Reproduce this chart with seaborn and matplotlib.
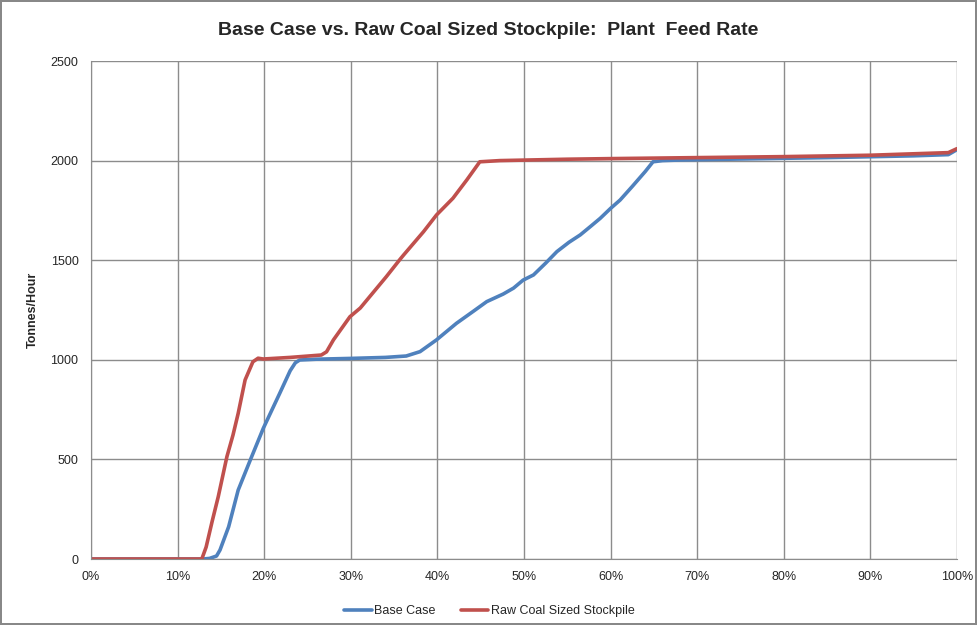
import numpy as np
import pandas as pd
import matplotlib.pyplot as plt
import matplotlib.ticker as mticker
import seaborn as sns

# data (x = fraction of time, y = tonnes/hour)
base_x = [0.00, 0.05, 0.10, 0.130, 0.137, 0.145, 0.149, 0.159, 0.170, 0.184, 0.199,
          0.218, 0.230, 0.236, 0.241, 0.26, 0.30, 0.34, 0.364, 0.380, 0.399, 0.422,
          0.442, 0.457, 0.476, 0.488, 0.499, 0.511, 0.525, 0.538, 0.552, 0.565,
          0.577, 0.588, 0.600, 0.611, 0.625, 0.640, 0.649, 0.66, 0.680,
          0.75, 0.85, 0.95, 0.99, 1.00]
base_y = [0, 0, 0, 0, 3, 15, 45, 162, 346, 497, 656,
          832, 945, 985, 999, 1003, 1007, 1012, 1019, 1041, 1100, 1183,
          1245, 1292, 1330, 1360, 1400, 1426, 1485, 1543, 1590, 1627,
          1670, 1710, 1760, 1802, 1870, 1945, 1994, 2000, 2003,
          2008, 2015, 2024, 2030, 2055]

stock_x = [0.00, 0.05, 0.10, 0.128, 0.133, 0.140, 0.147, 0.157, 0.164, 0.170,
           0.178, 0.187, 0.193, 0.199, 0.23, 0.266, 0.272, 0.280, 0.299, 0.311,
           0.341, 0.357, 0.361, 0.384, 0.399, 0.418, 0.434, 0.449, 0.472,
           0.55, 0.60, 0.70, 0.80, 0.90, 0.99, 1.00]
stock_y = [0, 0, 0, 0, 60, 190, 313, 514, 622, 731,
           899, 990, 1008, 1004, 1012, 1024, 1040, 1100, 1216, 1260,
           1417, 1505, 1526, 1643, 1727, 1811, 1903, 1994, 2000,
           2007, 2010, 2015, 2020, 2027, 2040, 2060]

series_names = ["Base Case", "Raw Coal Sized Stockpile"]
series_colors = ["#4F81BD", "#C0504D"]

df = pd.concat([
    pd.DataFrame({"t": base_x, "rate": base_y, "series": series_names[0]}),
    pd.DataFrame({"t": stock_x, "rate": stock_y, "series": series_names[1]}),
])

sns.set_style("white")
plt.rcParams["font.family"] = ["Liberation Sans Narrow", "Liberation Sans", "DejaVu Sans"]

fig = plt.figure(figsize=(9.77, 6.25), dpi=100)
fig.patch.set_edgecolor("#888888")
fig.patch.set_linewidth(1.5)
ax = fig.add_axes([0.0931, 0.1056, 0.8864, 0.7968])

sns.lineplot(data=df, x="t", y="rate", hue="series", hue_order=series_names,
             palette=series_colors, linewidth=2.6, ax=ax, legend=True)

ax.set_xlim(0, 1)
ax.set_ylim(0, 2500)
ax.xaxis.set_major_locator(mticker.MultipleLocator(0.1))
ax.yaxis.set_major_locator(mticker.MultipleLocator(500))
ax.xaxis.set_major_formatter(mticker.PercentFormatter(1.0, decimals=0))
ax.grid(True, color="#8c8c8c", linewidth=1)
ax.set_axisbelow(True)
for s in ["top", "right"]:
    ax.spines[s].set_visible(False)
for s in ["left", "bottom"]:
    ax.spines[s].set_color("#8c8c8c")
ax.tick_params(axis="both", direction="out", length=5, color="#8c8c8c",
               labelsize=9, pad=4)
ax.set_xlabel("")
ax.set_ylabel("Tonnes/Hour", fontsize=9, fontweight="bold", labelpad=8)

fig.suptitle("Base Case vs. Raw Coal Sized Stockpile:  Plant  Feed Rate",
             fontsize=14, fontweight="bold", y=0.965)

handles, labels = ax.get_legend_handles_labels()
ax.legend(handles, labels, loc="center", bbox_to_anchor=(0.46, -0.105),
          ncol=2, frameon=False, fontsize=9, handlelength=2.2,
          handletextpad=0.2, columnspacing=2.0)

fig.savefig("out.png", dpi=100, edgecolor=fig.get_edgecolor())
